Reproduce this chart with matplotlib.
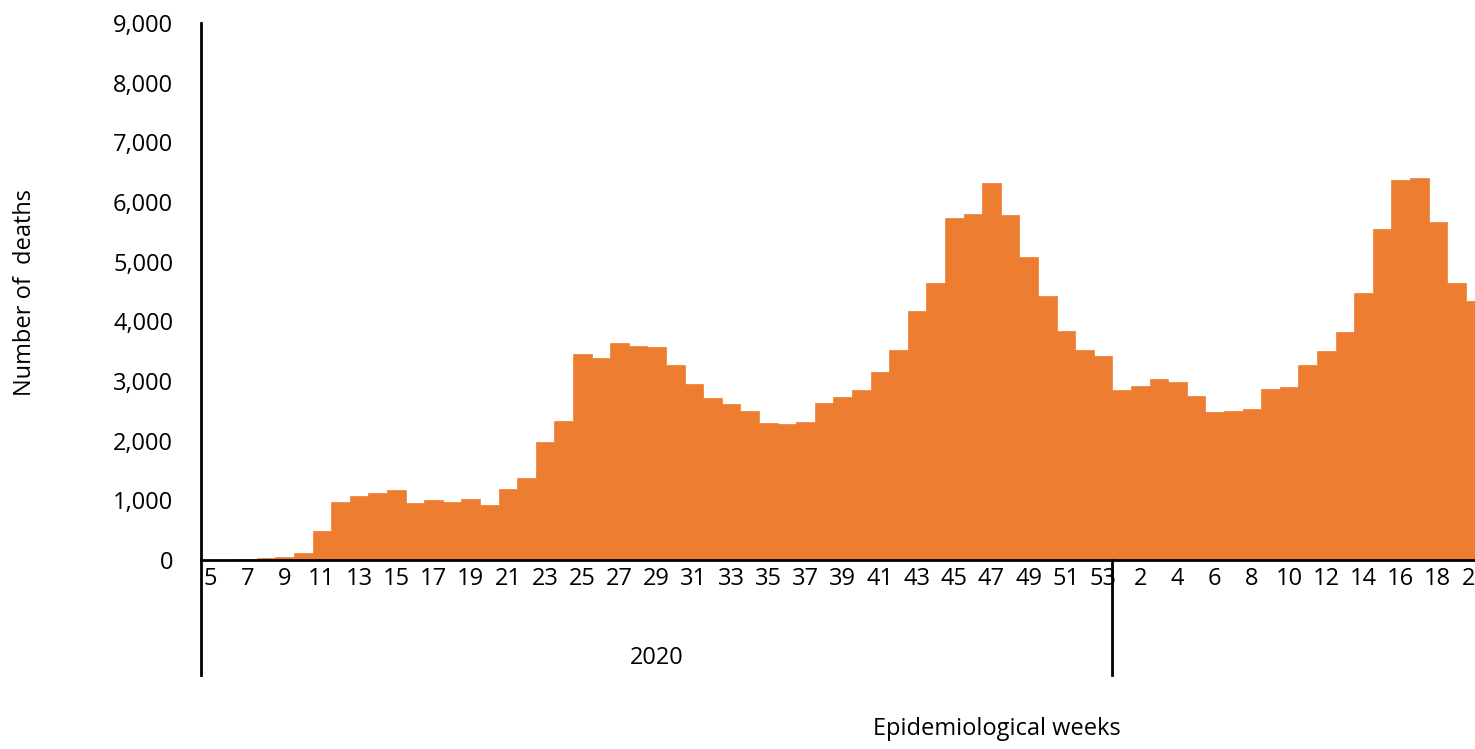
import matplotlib.pyplot as plt
from matplotlib.ticker import FuncFormatter
import matplotlib.transforms as mtransforms

# weekly deaths
weeks_2020 = list(range(5, 54))
deaths_2020 = [
    0, 0, 10, 40, 50, 120, 490, 980, 1070, 1120,
    1170, 960, 1000, 980, 1030, 930, 1190, 1380, 1980, 2335,
    3450, 3380, 3640, 3590, 3565, 3265, 2945, 2715, 2615, 2495,
    2290, 2275, 2310, 2635, 2725, 2850, 3155, 3520, 4175, 4640,
    5725, 5805, 6315, 5775, 5085, 4430, 3845, 3520, 3425,
]
weeks_2021 = list(range(1, 21))
deaths_2021 = [
    2850, 2910, 3030, 2990, 2755, 2475, 2495, 2525, 2865, 2895,
    3265, 3495, 3825, 4480, 5545, 6365, 6405, 5670, 4640, 4335,
]
year_labels = ["2020"]

plt.rcParams['font.family'] = ['Open Sans', 'DejaVu Sans']
bar_color = "#ED7D31"
fs = 17

weeks = weeks_2020 + weeks_2021
deaths = deaths_2020 + deaths_2021
pos = list(range(len(weeks)))

W, H = 1475, 749
fig = plt.figure(figsize=(W / 100, H / 100), dpi=100)
ax = fig.add_axes([201 / W, 1 - 560 / H, (W - 201) / W, 537 / H])

ax.bar(pos, deaths, width=1.0, color=bar_color, edgecolor=bar_color, linewidth=0.5)

ax.set_xlim(-0.5, len(weeks) - 1)
ax.set_ylim(0, 9000)
ax.set_yticks(range(0, 9001, 1000))
ax.yaxis.set_major_formatter(FuncFormatter(lambda v, p: f"{int(v):,}"))
ax.set_xticks(pos[::2])
ax.set_xticklabels([str(w) for w in weeks[::2]])
ax.tick_params(axis='both', length=0, labelsize=fs, colors='#000000')
ax.tick_params(axis='y', pad=20)
ax.tick_params(axis='x', pad=5)

for s in ['top', 'right']:
    ax.spines[s].set_visible(False)
ax.spines['left'].set_linewidth(2)
ax.spines['bottom'].set_linewidth(2)

# category separators below the axis
trans = mtransforms.blended_transform_factory(ax.transData, ax.transAxes)
depth = -115 / 537
sep = len(weeks_2020) - 0.5
ax.plot([-0.5, -0.5], [0, depth], color='black', lw=2, transform=trans, clip_on=False)
ax.plot([sep, sep], [0, depth], color='black', lw=2, transform=trans, clip_on=False)
ax.text((len(weeks_2020) - 1) / 2, -98 / 537, year_labels[0], transform=trans,
        ha='center', va='center', fontsize=fs)

fig.text(997 / W, 1 - 729 / H, "Epidemiological weeks", ha='center', va='center', fontsize=fs)
fig.text(25 / W, 1 - 293 / H, "Number of  deaths", ha='center', va='center',
         rotation=90, fontsize=fs)

fig.savefig("out.png", dpi=100)
